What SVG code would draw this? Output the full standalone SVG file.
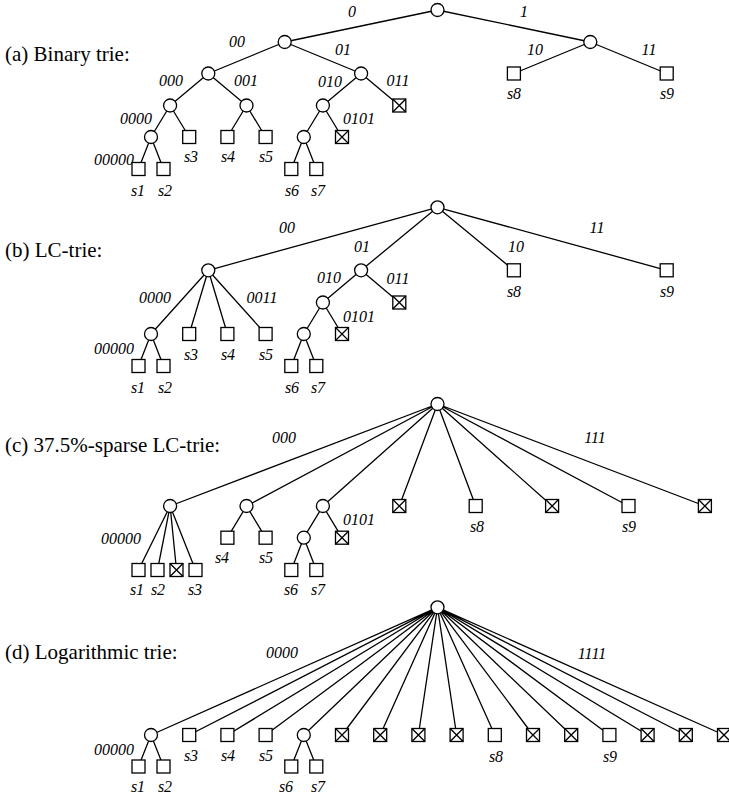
<svg xmlns="http://www.w3.org/2000/svg" width="729" height="798" viewBox="0 0 729 798">
<style>
.e{stroke:#000;stroke-width:1.3;fill:none}
.n{fill:#fff;stroke:#000;stroke-width:1.3}
.t{font-family:"Liberation Serif","Times New Roman",serif;font-size:21px;fill:#000}
.l{font-family:"Liberation Serif","Times New Roman",serif;font-size:16px;font-style:italic;fill:#000;text-anchor:middle}
</style>
<defs>
<circle id="c" r="6.5" class="n"/>
<rect id="s" x="-6.5" y="-6.5" width="13" height="13" class="n"/>
<g id="x"><rect x="-6.5" y="-6.5" width="13" height="13" class="n"/><path d="M-6.5,-6.5L6.5,6.5M6.5,-6.5L-6.5,6.5" class="e"/></g>
</defs>
<rect width="729" height="798" fill="#fff"/>

<g id="titles">
<text class="t" x="5" y="61">(a) Binary trie:</text>
<text class="t" x="5" y="257">(b) LC-trie:</text>
<text class="t" x="5" y="452">(c) 37.5%-sparse LC-trie:</text>
<text class="t" x="5" y="659">(d) Logarithmic trie:</text>
</g>

<g id="connectors" class="e">
<path d="M437.5,10L284.7,42M437.5,10L590.3,42
M284.7,42L208.3,73.5M284.7,42L361.1,73.5M590.3,42L513.9,73.5M590.3,42L666.7,73.5
M208.3,73.5L170.1,105.5M208.3,73.5L246.5,105.5M361.1,73.5L322.9,105.5M361.1,73.5L399.3,105.5
M170.1,105.5L151,137M170.1,105.5L189.2,137M246.5,105.5L227.4,137M246.5,105.5L265.6,137M322.9,105.5L303.8,137M322.9,105.5L342,137
M151,137L138.5,169M151,137L163.5,169M303.8,137L291.3,169M303.8,137L316.3,169"/>
<path d="M437.5,207.3L208.3,270.3M437.5,207.3L361.1,270.3M437.5,207.3L513.9,270.3M437.5,207.3L666.7,270.3
M208.3,270.3L151,334M208.3,270.3L189.2,334M208.3,270.3L227.4,334M208.3,270.3L265.6,334
M361.1,270.3L322.9,302.5M361.1,270.3L399.3,302.5
M322.9,302.5L303.8,334M322.9,302.5L342,334
M151,334L138.5,366M151,334L163.5,366M303.8,334L291.3,366M303.8,334L316.3,366"/>
<path d="M437.5,404L170.1,506M437.5,404L246.5,506M437.5,404L322.9,506M437.5,404L399.3,506M437.5,404L475.7,506M437.5,404L552.1,506M437.5,404L628.5,506M437.5,404L704.9,506
M170.1,506L138.5,570M170.1,506L157.5,570M170.1,506L176.5,570M170.1,506L195.5,570
M246.5,506L227.4,537.7M246.5,506L265.6,537.7M322.9,506L303.8,537.7M322.9,506L342,537.7
M303.8,537.7L291.3,570M303.8,537.7L316.3,570"/>
<path d="M437.5,607.3L151,735M437.5,607.3L189.2,735M437.5,607.3L227.4,735M437.5,607.3L265.6,735M437.5,607.3L303.8,735M437.5,607.3L342,735M437.5,607.3L380.2,735M437.5,607.3L418.4,735
M437.5,607.3L456.6,735M437.5,607.3L494.8,735M437.5,607.3L533,735M437.5,607.3L571.2,735M437.5,607.3L609.4,735M437.5,607.3L647.6,735M437.5,607.3L685.8,735M437.5,607.3L724,735
M151,735L138.5,766.5M151,735L163.5,766.5M303.8,735L291.3,766.5M303.8,735L316.3,766.5"/>
</g>

<g id="edge-labels" class="l">
<text x="352" y="17">0</text><text x="524" y="17">1</text>
<text x="237" y="47">00</text><text x="343" y="55">01</text><text x="535" y="55">10</text><text x="649" y="55">11</text>
<text x="171" y="86">000</text><text x="246" y="86">001</text><text x="330" y="87">010</text><text x="398" y="86">011</text>
<text x="136" y="124">0000</text><text x="359" y="124">0101</text><text x="114" y="165">00000</text>
<text x="287" y="233">00</text><text x="362" y="252">01</text><text x="516" y="252">10</text><text x="597" y="233">11</text>
<text x="329" y="283">010</text><text x="398" y="284">011</text>
<text x="155" y="303">0000</text><text x="262" y="303">0011</text><text x="359" y="322">0101</text><text x="114" y="354">00000</text>
<text x="284" y="443">000</text><text x="595" y="443">111</text><text x="359" y="525">0101</text><text x="121" y="544">00000</text>
<text x="282" y="658">0000</text><text x="592" y="659">1111</text><text x="114" y="755">00000</text>
</g>

<g id="nodes" class="l">
<g id="a-root"><use href="#c" x="437.5" y="10"/></g>
<g id="a-0"><use href="#c" x="284.7" y="42"/></g>
<g id="a-1"><use href="#c" x="590.3" y="42"/></g>
<g id="a-00"><use href="#c" x="208.3" y="73.5"/></g>
<g id="a-01"><use href="#c" x="361.1" y="73.5"/></g>
<g id="a-s8"><use href="#s" x="513.9" y="73.5"/><text x="514" y="99">s8</text></g>
<g id="a-s9"><use href="#s" x="666.7" y="73.5"/><text x="667" y="99">s9</text></g>
<g id="a-000"><use href="#c" x="170.1" y="105.5"/></g>
<g id="a-001"><use href="#c" x="246.5" y="105.5"/></g>
<g id="a-010"><use href="#c" x="322.9" y="105.5"/></g>
<g id="a-011"><use href="#x" x="399.3" y="105.5"/></g>
<g id="a-0000"><use href="#c" x="151" y="137"/></g>
<g id="a-s3"><use href="#s" x="189.2" y="137"/><text x="191" y="162">s3</text></g>
<g id="a-s4"><use href="#s" x="227.4" y="137"/><text x="228" y="162">s4</text></g>
<g id="a-s5"><use href="#s" x="265.6" y="137"/><text x="266" y="162">s5</text></g>
<g id="a-0100"><use href="#c" x="303.8" y="137"/></g>
<g id="a-0101"><use href="#x" x="342" y="137"/></g>
<g id="a-s1"><use href="#s" x="138.5" y="169"/><text x="138" y="196">s1</text></g>
<g id="a-s2"><use href="#s" x="163.5" y="169"/><text x="165" y="196">s2</text></g>
<g id="a-s6"><use href="#s" x="291.3" y="169"/><text x="292" y="196">s6</text></g>
<g id="a-s7"><use href="#s" x="316.3" y="169"/><text x="318" y="196">s7</text></g>

<g id="b-root"><use href="#c" x="437.5" y="207.3"/></g>
<g id="b-00"><use href="#c" x="208.3" y="270.3"/></g>
<g id="b-01"><use href="#c" x="361.1" y="270.3"/></g>
<g id="b-s8"><use href="#s" x="513.9" y="270.3"/><text x="514" y="297">s8</text></g>
<g id="b-s9"><use href="#s" x="666.7" y="270.3"/><text x="667" y="297">s9</text></g>
<g id="b-010"><use href="#c" x="322.9" y="302.5"/></g>
<g id="b-011"><use href="#x" x="399.3" y="302.5"/></g>
<g id="b-0000"><use href="#c" x="151" y="334"/></g>
<g id="b-s3"><use href="#s" x="189.2" y="334"/><text x="191" y="360">s3</text></g>
<g id="b-s4"><use href="#s" x="227.4" y="334"/><text x="228" y="360">s4</text></g>
<g id="b-s5"><use href="#s" x="265.6" y="334"/><text x="266" y="360">s5</text></g>
<g id="b-0100"><use href="#c" x="303.8" y="334"/></g>
<g id="b-0101"><use href="#x" x="342" y="334"/></g>
<g id="b-s1"><use href="#s" x="138.5" y="366"/><text x="138" y="393">s1</text></g>
<g id="b-s2"><use href="#s" x="163.5" y="366"/><text x="165" y="393">s2</text></g>
<g id="b-s6"><use href="#s" x="291.3" y="366"/><text x="292" y="393">s6</text></g>
<g id="b-s7"><use href="#s" x="316.3" y="366"/><text x="318" y="393">s7</text></g>

<g id="c-root"><use href="#c" x="437.5" y="404"/></g>
<g id="c-000"><use href="#c" x="170.1" y="506"/></g>
<g id="c-001"><use href="#c" x="246.5" y="506"/></g>
<g id="c-010"><use href="#c" x="322.9" y="506"/></g>
<g id="c-011"><use href="#x" x="399.3" y="506"/></g>
<g id="c-s8"><use href="#s" x="475.7" y="506"/><text x="477" y="532">s8</text></g>
<g id="c-101"><use href="#x" x="552.1" y="506"/></g>
<g id="c-s9"><use href="#s" x="628.5" y="506"/><text x="629" y="532">s9</text></g>
<g id="c-111"><use href="#x" x="704.9" y="506"/></g>
<g id="c-s4"><use href="#s" x="227.4" y="537.7"/><text x="222" y="563">s4</text></g>
<g id="c-s5"><use href="#s" x="265.6" y="537.7"/><text x="266" y="563">s5</text></g>
<g id="c-0100"><use href="#c" x="303.8" y="537.7"/></g>
<g id="c-0101"><use href="#x" x="342" y="537.7"/></g>
<g id="c-s1"><use href="#s" x="138.5" y="570"/><text x="137" y="595">s1</text></g>
<g id="c-s2"><use href="#s" x="157.5" y="570"/><text x="158" y="595">s2</text></g>
<g id="c-00010"><use href="#x" x="176.5" y="570"/></g>
<g id="c-s3"><use href="#s" x="195.5" y="570"/><text x="195" y="595">s3</text></g>
<g id="c-s6"><use href="#s" x="291.3" y="570"/><text x="291" y="595">s6</text></g>
<g id="c-s7"><use href="#s" x="316.3" y="570"/><text x="318" y="595">s7</text></g>

<g id="d-root"><use href="#c" x="437.5" y="607.3"/></g>
<g id="d-0000"><use href="#c" x="151" y="735"/></g>
<g id="d-s3"><use href="#s" x="189.2" y="735"/><text x="191" y="761">s3</text></g>
<g id="d-s4"><use href="#s" x="227.4" y="735"/><text x="228" y="761">s4</text></g>
<g id="d-s5"><use href="#s" x="265.6" y="735"/><text x="266" y="761">s5</text></g>
<g id="d-0100"><use href="#c" x="303.8" y="735"/></g>
<g id="d-0101"><use href="#x" x="342" y="735"/></g>
<g id="d-0110"><use href="#x" x="380.2" y="735"/></g>
<g id="d-0111"><use href="#x" x="418.4" y="735"/></g>
<g id="d-1000"><use href="#x" x="456.6" y="735"/></g>
<g id="d-s8"><use href="#s" x="494.8" y="735"/><text x="496" y="762">s8</text></g>
<g id="d-1010"><use href="#x" x="533" y="735"/></g>
<g id="d-1011"><use href="#x" x="571.2" y="735"/></g>
<g id="d-s9"><use href="#s" x="609.4" y="735"/><text x="610" y="762">s9</text></g>
<g id="d-1101"><use href="#x" x="647.6" y="735"/></g>
<g id="d-1110"><use href="#x" x="685.8" y="735"/></g>
<g id="d-1111"><use href="#x" x="724" y="735"/></g>
<g id="d-s1"><use href="#s" x="138.5" y="766.5"/><text x="138" y="792">s1</text></g>
<g id="d-s2"><use href="#s" x="163.5" y="766.5"/><text x="165" y="792">s2</text></g>
<g id="d-s6"><use href="#s" x="291.3" y="766.5"/><text x="286" y="792">s6</text></g>
<g id="d-s7"><use href="#s" x="316.3" y="766.5"/><text x="318" y="792">s7</text></g>
</g>
</svg>
